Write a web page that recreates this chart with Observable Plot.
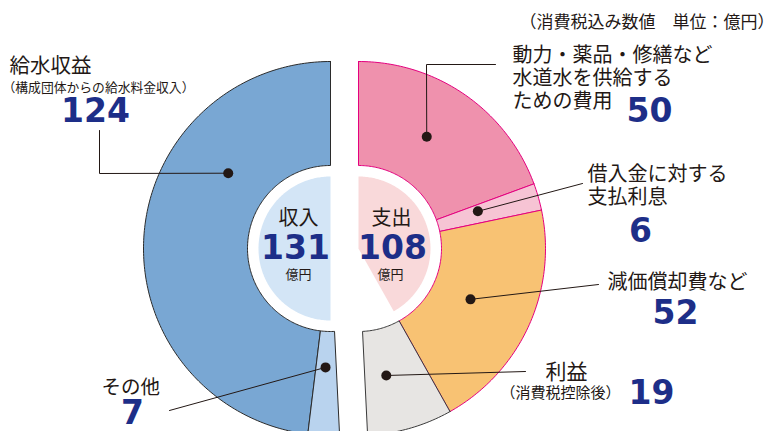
<!DOCTYPE html>
<html><head><meta charset="utf-8">
<script src="https://cdn.jsdelivr.net/npm/d3@7"></script>
<script src="https://cdn.jsdelivr.net/npm/@observablehq/plot@0.6"></script>
<style>html,body{margin:0;padding:0;background:#fff}svg{display:block}</style>
</head><body><div id="chart"></div>
<script>
// ---- data ----
const incomeNames = ["給水収益", "その他"];
const incomeValues = [124, 7];
const expenseNames = ["動力・薬品・修繕など\n水道水を供給する\nための費用", "借入金に対する\n支払利息", "減価償却費など", "利益"];
const expenseValues = [50, 6, 52, 19];
const incomeNote = "（構成団体からの給水料金収入）";
const profitNote = "（消費税控除後）";
const incomeLabel = "収入";
const expenseLabel = "支出";
const unitLabel = "億円";
const unitNote = "（消費税込み数値　単位：億円）";

// ---- layout / style ----
const W = 774, H = 431;
const centerL = {cx: 330, cy: 248}, centerR = {cx: 358, cy: 248};
const rOuter = 187, rHole = 83, rCore = 72;
const ink = "#231815", navy = "#1d2e88", magenta = "#e4007f";
const incomeFill = ["#79a7d3", "#b9d3ee"];
const incomeStroke = ["#2b2b2b", "#2b2b2b"];
const expenseFill = ["#ef91ad", "#f6c4d4", "#f8c273", "#e7e5e3"];
const expenseStroke = [magenta, magenta, magenta, "#3a3a3a"];
const incomeDot = [{t: 0.31, r: 127}, {t: 0.47, r: 119}];
const expenseDot = [{t: 0.45, r: 131}, {t: 0.35, r: 125}, {t: 0.5, r: 123}, {t: 0.64, r: 130}];
const incomeLeaderTo = [[[99, 173], [99, 130]], [[169, 410]]];
const expenseLeaderTo = [[[426, 64], [495, 64]], [[582, 183]], [[598, 284]], [[525, 371]]];

const grand = d3.sum(incomeValues) + d3.sum(expenseValues);
const k = 360 / grand; // degrees per 億円
const rad = a => a * Math.PI / 180;
const polar = (c, r, a) => ({x: c.cx + r * Math.sin(rad(a)), y: c.cy - r * Math.cos(rad(a))});

function wedge(c, r0, r1, a0, a1) {
  const n = Math.max(2, Math.ceil(Math.abs(a1 - a0)) + 1);
  const pts = [];
  for (let i = 0; i < n; i++) pts.push(polar(c, r1, a0 + (a1 - a0) * i / (n - 1)));
  if (r0 > 0) for (let i = n - 1; i >= 0; i--) pts.push(polar(c, r0, a0 + (a1 - a0) * i / (n - 1)));
  else pts.push({x: c.cx, y: c.cy});
  pts.push(pts[0]);
  return pts;
}

// slices: income counter-clockwise from top, expenses clockwise from top
function slices(values, sign) {
  let acc = 0;
  return values.map(v => { const a0 = acc; acc += v; return {a0: sign * a0 * k, a1: sign * acc * k}; });
}
const incSl = slices(incomeValues, -1);
const expSl = slices(expenseValues, 1);

const marks = [];
// inner cores
marks.push(Plot.line(wedge(centerL, 0, rCore, 0, -180), {x: "x", y: "y", fill: "#d3e5f6", stroke: "none"}));
const expenseSum = d3.sum(expenseValues.slice(0, 3));
marks.push(Plot.line(wedge(centerR, 0, rCore, 0, expenseSum * k), {x: "x", y: "y", fill: "#f9d9da", stroke: "none"}));
// ring slices
incSl.forEach((s, i) => marks.push(Plot.line(wedge(centerL, rHole, rOuter, s.a0, s.a1),
  {x: "x", y: "y", fill: incomeFill[i], stroke: incomeStroke[i], strokeWidth: 1, strokeLinejoin: "miter"})));
expSl.forEach((s, i) => marks.push(Plot.line(wedge(centerR, rHole, rOuter, s.a0, s.a1),
  {x: "x", y: "y", fill: expenseFill[i], stroke: expenseStroke[i], strokeWidth: 1, strokeLinejoin: "miter"})));

// leaders + dots
function leader(c, s, d, to) {
  const p = polar(c, d.r, s.a0 + (s.a1 - s.a0) * d.t);
  const pts = [p, ...to.map(([x, y]) => ({x, y}))];
  marks.push(Plot.line(pts, {x: "x", y: "y", stroke: ink, strokeWidth: 1}));
  marks.push(Plot.dot([p], {x: "x", y: "y", r: 5, fill: ink, stroke: "none"}));
}
incSl.forEach((s, i) => leader(centerL, s, incomeDot[i], incomeLeaderTo[i]));
expSl.forEach((s, i) => leader(centerR, s, expenseDot[i], expenseLeaderTo[i]));

// texts
const jp = "'Noto Sans CJK JP', 'Noto Sans', sans-serif";
const num = "'DejaVu Sans', sans-serif";
function txt(text, x, y, o = {}) {
  marks.push(Plot.text([text], {x: () => x, y: () => y, text: d => d,
    fontSize: o.size ?? 20, fill: o.fill ?? ink, textAnchor: o.anchor ?? "start",
    lineHeight: o.lh ?? 1, fontFamily: o.num ? num : jp, fontWeight: o.num ? "bold" : "normal", lineAnchor: "middle"}));
}
const N = {num: true, size: 33, fill: navy, anchor: "middle"};
txt(unitNote, 519, 22, {size: 17});
txt(incomeNames[0], 9, 66, {size: 20.5});
txt(incomeNote, 2, 87, {size: 12.8});
txt(String(incomeValues[0]), 95, 111, N);
txt(incomeNames[1], 101, 387, {size: 19.5});
txt(String(incomeValues[1]), 132, 413, N);
txt(incomeLabel, 298, 218, {size: 20, anchor: "middle"});
txt(String(d3.sum(incomeValues)), 295, 248, N);
txt(unitLabel, 298, 274, {size: 13, anchor: "middle"});
txt(expenseLabel, 391, 218, {size: 20, anchor: "middle"});
txt(String(expenseSum), 392, 248, N);
txt(unitLabel, 390, 274, {size: 13, anchor: "middle"});
txt(expenseNames[0], 512, 77, {size: 20, lh: 1.16});
txt(String(expenseValues[0]), 649, 111, N);
txt(expenseNames[1], 587, 184.5, {size: 20, lh: 1.16});
txt(String(expenseValues[1]), 640, 231, N);
txt(expenseNames[2], 607, 282, {size: 20});
txt(String(expenseValues[2]), 675, 313, N);
txt(expenseNames[3], 566, 372, {size: 21, anchor: "middle"});
txt(profitNote, 500, 393, {size: 15});
txt(String(expenseValues[3]), 651, 393, N);

const chart = Plot.plot({
  width: W, height: H, margin: 0,
  x: {domain: [0, W], range: [0, W], axis: null},
  y: {domain: [0, H], range: [0, H], axis: null},
  style: {background: "#fff", fontFamily: jp},
  marks
});
document.getElementById("chart").append(chart);
</script>
</body></html>
